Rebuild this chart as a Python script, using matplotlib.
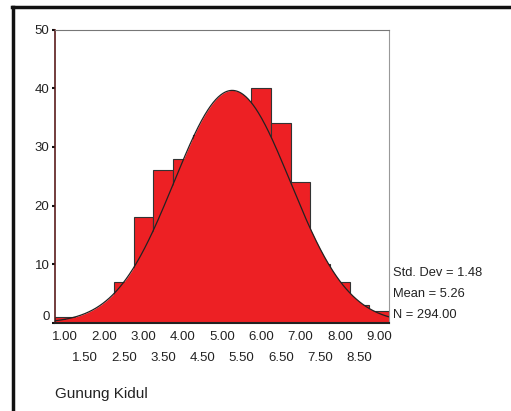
import numpy as np
import matplotlib
matplotlib.use("Agg")
import matplotlib.pyplot as plt
from matplotlib.lines import Line2D

plt.rcParams['font.family'] = ['Liberation Sans', 'DejaVu Sans']

# histogram data (bin centres, counts)
bin_centers = [1.0, 1.5, 2.0, 2.5, 3.0, 3.5, 4.0, 4.5, 5.0, 5.5,
               6.0, 6.5, 7.0, 7.5, 8.0, 8.5, 9.0]
counts = [1, 0, 2, 7, 18, 26, 28, 32, 31, 30, 40, 34, 24, 10, 7, 3, 2]
bin_width = 0.5

std_dev = 1.48
mean = 5.26
n_total = 294

major_ticks = [1.0, 2.0, 3.0, 4.0, 5.0, 6.0, 7.0, 8.0, 9.0]
minor_ticks = [1.5, 2.5, 3.5, 4.5, 5.5, 6.5, 7.5, 8.5]
y_ticks = [0, 10, 20, 30, 40, 50]
label_text = "Gunung Kidul"

red = '#ed2024'
txt = '#222222'

fig = plt.figure(figsize=(5.11, 4.11), dpi=100)
ax = fig.add_axes([55 / 511, 1 - 323 / 411, 334 / 511, 293.5 / 411])

edges = ['white' if c == 0 else '#333333' for c in counts]
ax.bar(bin_centers, counts, width=bin_width, color=red, edgecolor=edges,
       linewidth=0.8, zorder=1)

# fitted normal curve
xs = np.linspace(0.75, 9.25, 400)
pdf = np.exp(-0.5 * ((xs - mean) / std_dev) ** 2) / (std_dev * np.sqrt(2 * np.pi))
curve = pdf * n_total * bin_width
ax.fill_between(xs, 0, curve, color=red, linewidth=0, zorder=2)
ax.plot(xs, curve, color='#222222', linewidth=0.9, zorder=3)

ax.set_xlim(0.75, 9.25)
ax.set_ylim(0, 50)

ax.set_xticks(major_ticks + minor_ticks)
ax.set_xticklabels([])
ax.tick_params(axis='x', direction='in', length=3, width=1.2, color='#111111')
for t in major_ticks:
    ax.text(t, -2.4, f"{t:.2f}", ha='center', va='center', fontsize=9.5,
            color=txt)
for t in minor_ticks:
    ax.text(t, -5.9, f"{t:.2f}", ha='center', va='center', fontsize=9.5,
            color=txt)

ax.set_yticks(y_ticks)
ax.set_yticklabels([str(v) for v in y_ticks], fontsize=9.5, color=txt)
ax.get_yticklabels()[0].set_va('bottom')
ax.tick_params(axis='y', direction='out', length=2, width=1.5, pad=2,
               color='#111111')

ax.spines['left'].set_color('#5a1c1c')
ax.spines['left'].set_linewidth(1.2)
ax.spines['bottom'].set_color('#222222')
ax.spines['bottom'].set_linewidth(1.5)
ax.spines['top'].set_color('#777777')
ax.spines['top'].set_linewidth(0.8)
ax.spines['right'].set_color('#999999')
ax.spines['right'].set_linewidth(0.8)

# statistics text
fig.text(393 / 511, 1 - 273 / 411, f"Std. Dev = {std_dev:.2f}", fontsize=9.3,
         va='center', ha='left', color=txt)
fig.text(393 / 511, 1 - 294 / 411, f"Mean = {mean:.2f}", fontsize=9.3,
         va='center', ha='left', color=txt)
fig.text(393 / 511, 1 - 315 / 411, f"N = {n_total:.2f}", fontsize=9.3,
         va='center', ha='left', color=txt)

fig.text(55 / 511, 1 - 394 / 411, label_text, fontsize=11, va='center',
         ha='left', color=txt)

# outer frame (top and left edges only visible)
fig.add_artist(Line2D([13 / 511, 13 / 511], [0, 1 - 7 / 411], color='#111111',
                      linewidth=2.5, transform=fig.transFigure))
fig.add_artist(Line2D([12 / 511, 1], [1 - 7 / 411, 1 - 7 / 411],
                      color='#111111', linewidth=2.5,
                      transform=fig.transFigure))

fig.savefig('out.png', dpi=100)
